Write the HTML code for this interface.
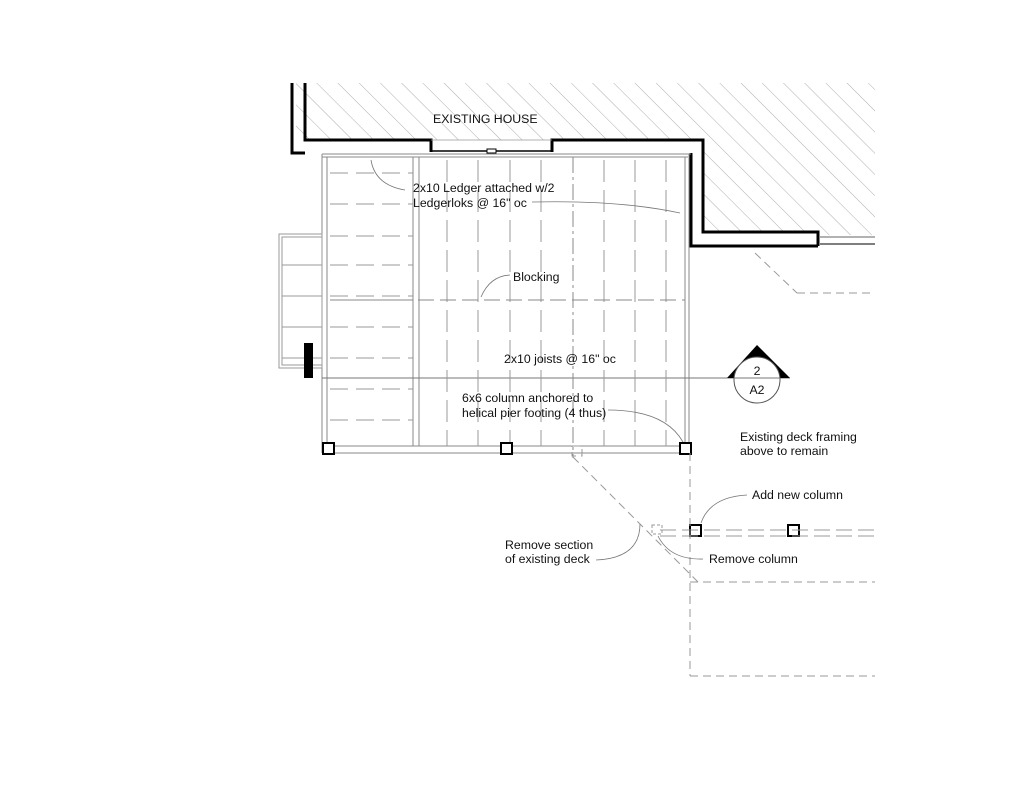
<!DOCTYPE html>
<html><head><style>
html,body{margin:0;padding:0;background:#fff;width:1024px;height:791px;overflow:hidden}
svg{display:block}
text{font-family:"Liberation Sans",Arial,sans-serif;font-size:12.3px;fill:#111}
</style></head><body>
<svg width="1024" height="791" viewBox="0 0 1024 791" xmlns="http://www.w3.org/2000/svg">
<defs>
<pattern id="h" patternUnits="userSpaceOnUse" width="15" height="15" patternTransform="rotate(-45)">
<line x1="0" y1="0" x2="0" y2="15" stroke="#999" stroke-width="0.8"/>
</pattern>
<clipPath id="c"><rect x="0" y="0" width="875" height="791"/></clipPath>
</defs>
<g clip-path="url(#c)">
<path d="M296 83 H875 V235 H818 V232 H703 V140 H296 Z" fill="url(#h)"/>
<g fill="none" stroke="#000" stroke-width="3">
<path d="M292 83 V153 H305"/>
<path d="M305 83 V140 H431 V152"/>
<path d="M552 152 V140 H703 V232 H818 V246"/>
<path d="M691 153 V246 H818"/>
</g>
<line x1="431" y1="151" x2="552" y2="151" stroke="#000" stroke-width="1.5"/>
<line x1="431" y1="140" x2="552" y2="140" stroke="#999" stroke-width="0.8"/>
<rect x="487" y="149" width="9" height="4" fill="#fff" stroke="#000"/>
<line x1="820" y1="237" x2="875" y2="237" stroke="#333" stroke-width="0.8"/>
<line x1="820" y1="244" x2="875" y2="244" stroke="#333" stroke-width="1.2"/>
<g stroke="#888" stroke-width="1" fill="none">
<line x1="322" y1="154" x2="691" y2="154"/>
<line x1="322" y1="157" x2="688" y2="157"/>
<line x1="322" y1="154" x2="322" y2="453"/>
<line x1="327" y1="157" x2="327" y2="446"/>
<line x1="413" y1="157" x2="413" y2="446"/>
<line x1="419" y1="157" x2="419" y2="446"/>
<line x1="685" y1="157" x2="685" y2="446"/>
<line x1="689" y1="154" x2="689" y2="453"/>
<line x1="322" y1="446" x2="690" y2="446"/>
<line x1="322" y1="453" x2="690" y2="453"/>
<line x1="322" y1="378" x2="730" y2="378" stroke="#777"/>
</g>
<g stroke="#999" stroke-width="1" stroke-dasharray="22,8">
<line x1="447" y1="160" x2="447" y2="446"/>
<line x1="478" y1="160" x2="478" y2="446"/>
<line x1="510" y1="160" x2="510" y2="446"/>
<line x1="541" y1="160" x2="541" y2="446"/>
<line x1="604" y1="160" x2="604" y2="446"/>
<line x1="635" y1="160" x2="635" y2="446"/>
<line x1="666" y1="160" x2="666" y2="446"/>
</g>
<line x1="573" y1="157" x2="573" y2="458" stroke="#888" stroke-dasharray="16,4,3,4"/>
<line x1="330" y1="300" x2="685" y2="300" stroke="#888" stroke-dasharray="16,6"/>
<line x1="330" y1="300" x2="413" y2="300" stroke="#888"/>
<g stroke="#999" stroke-width="1" stroke-dasharray="18,8">
<line x1="330" y1="173" x2="413" y2="173"/>
<line x1="330" y1="204" x2="413" y2="204"/>
<line x1="330" y1="236" x2="413" y2="236"/>
<line x1="330" y1="265" x2="413" y2="265"/>
<line x1="330" y1="296" x2="413" y2="296"/>
<line x1="330" y1="327" x2="413" y2="327"/>
<line x1="330" y1="358" x2="413" y2="358"/>
<line x1="330" y1="389" x2="413" y2="389"/>
<line x1="330" y1="420" x2="413" y2="420"/>
</g>
<g stroke="#999" fill="none" stroke-width="1">
<rect x="279" y="234" width="43" height="134"/>
<rect x="282" y="237" width="40" height="128"/>
<line x1="282" y1="265" x2="322" y2="265"/>
<line x1="282" y1="296" x2="322" y2="296"/>
<line x1="282" y1="327" x2="322" y2="327"/>
<line x1="282" y1="358" x2="322" y2="358"/>
</g>
<rect x="304" y="343" width="9" height="35" fill="#000"/>
<g fill="#fff" stroke="#000" stroke-width="2">
<rect x="323" y="443" width="11" height="11"/>
<rect x="501" y="443" width="11" height="11"/>
<rect x="680" y="443" width="11" height="11"/>
<rect x="690" y="525" width="11" height="11"/>
<rect x="788" y="525" width="11" height="11"/>
</g>
<g stroke="#999" stroke-width="1" fill="none" stroke-dasharray="8,5">
<rect x="572" y="446" width="10" height="10"/>
<line x1="573" y1="457" x2="698" y2="582"/>
<line x1="690" y1="453" x2="690" y2="676"/>
<line x1="690" y1="582" x2="875" y2="582"/>
<line x1="690" y1="676" x2="875" y2="676"/>
<line x1="660" y1="530" x2="875" y2="530" stroke-dasharray="16,6"/>
<line x1="660" y1="536" x2="875" y2="536" stroke-dasharray="16,6"/>
<rect x="652" y="525" width="10" height="9" stroke-dasharray="3,2"/>
<line x1="755" y1="253" x2="797" y2="293"/>
<line x1="797" y1="293" x2="875" y2="293"/>
</g>
</g>
<line x1="730" y1="378" x2="790" y2="378" stroke="#777"/>
<path d="M727 378 L757 345 L790 378 Z" fill="#000"/>
<circle cx="757" cy="380" r="23" fill="#fff" stroke="#555"/>
<line x1="734" y1="378" x2="780" y2="378" stroke="#777"/>
<text x="757" y="375" text-anchor="middle">2</text>
<text x="757" y="394" text-anchor="middle">A2</text>
<g fill="none" stroke="#777" stroke-width="0.8">
<path d="M405 190 Q375 185 371 160"/>
<path d="M532 202 Q620 200 680 213"/>
<path d="M510 275 Q490 276 481 297"/>
<path d="M608 410 Q665 410 683 442"/>
<path d="M747 495 Q710 497 701 523"/>
<path d="M703 559 Q670 560 658 536"/>
<path d="M596 560 Q640 558 640 524"/>
</g>
<text x="433" y="123">EXISTING HOUSE</text>
<text x="413" y="192">2x10 Ledger attached w/2</text>
<text x="413" y="207">Ledgerloks @ 16" oc</text>
<text x="513" y="281">Blocking</text>
<text x="504" y="363">2x10 joists @ 16" oc</text>
<text x="462" y="402">6x6 column anchored to</text>
<text x="462" y="417">helical pier footing (4 thus)</text>
<text x="740" y="441">Existing deck framing</text>
<text x="740" y="455">above to remain</text>
<text x="752" y="499">Add new column</text>
<text x="505" y="549">Remove section</text>
<text x="505" y="563">of existing deck</text>
<text x="709" y="563">Remove column</text>
</svg>
</body></html>
